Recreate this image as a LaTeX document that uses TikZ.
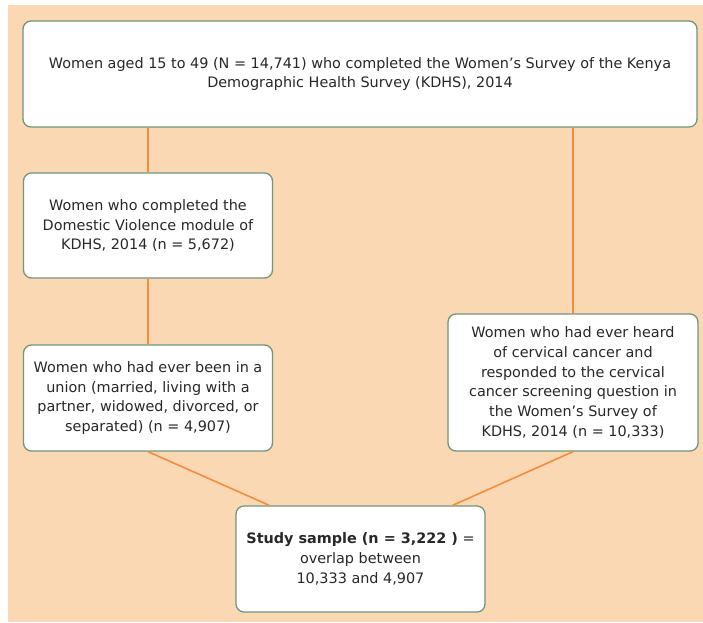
\documentclass[tikz,border=0pt]{standalone}
\usepackage{fontspec}
\setmainfont{DejaVu Sans}
\definecolor{fcpeach}{RGB}{251,216,180}
\definecolor{fcorange}{RGB}{245,140,60}
\definecolor{fcgreen}{RGB}{112,150,120}
\definecolor{fctext}{RGB}{40,40,40}
\usetikzlibrary{positioning,calc}

\begin{document}
\begin{tikzpicture}[x=1pt, y=-1pt,
    flowbox/.style={rectangle, rounded corners=8pt, draw=fcgreen, line width=1.3pt,
                    fill=white, text=fctext, align=center,
                    font=\fontsize{14.4}{19.8}\selectfont, inner sep=2pt},
    link/.style={draw=fcorange, line width=1.6pt}
  ]
    \useasboundingbox (0,0) rectangle (703,622);
    \fill[fcpeach] (8,5) rectangle (703,622);

    \node[flowbox, minimum width=674pt, minimum height=106pt] (all) at (360,74)
      {Women aged 15 to 49 (N = 14,741) who completed the Women’s Survey of the Kenya\\
       Demographic Health Survey (KDHS), 2014};
    \node[flowbox, minimum width=249pt, minimum height=105pt] (dv) at (148,225.5)
      {Women who completed the\\ Domestic Violence module of\\ KDHS, 2014 (n = 5,672)};
    \node[flowbox, minimum width=249pt, minimum height=106pt] (union) at (148,398)
      {Women who had ever been in a\\ union (married, living with a\\
       partner, widowed, divorced, or\\ separated) (n = 4,907)};
    \node[flowbox, minimum width=250pt, minimum height=137pt] (cerv) at (573,382.5)
      {Women who had ever heard\\ of cervical cancer and\\ responded to the cervical\\
       cancer screening question in\\ the Women’s Survey of\\ KDHS, 2014 (n = 10,333)};
    \node[flowbox, minimum width=249pt, minimum height=106pt] (study) at (360.5,559)
      {\textbf{Study sample (n = 3,222 )} =\\ overlap between\\ 10,333 and 4,907};

    % Links
    \draw[link] (all.south -| dv.north) -- (dv.north);
    \draw[link] (all.south -| cerv.north) -- (cerv.north);
    \draw[link] (dv.south) -- (union.north);
    \draw[link] (union.south) -- ([xshift=34pt]study.north west);
    \draw[link] (cerv.south) -- ([xshift=-33pt]study.north east);
  \end{tikzpicture}
\end{document}
